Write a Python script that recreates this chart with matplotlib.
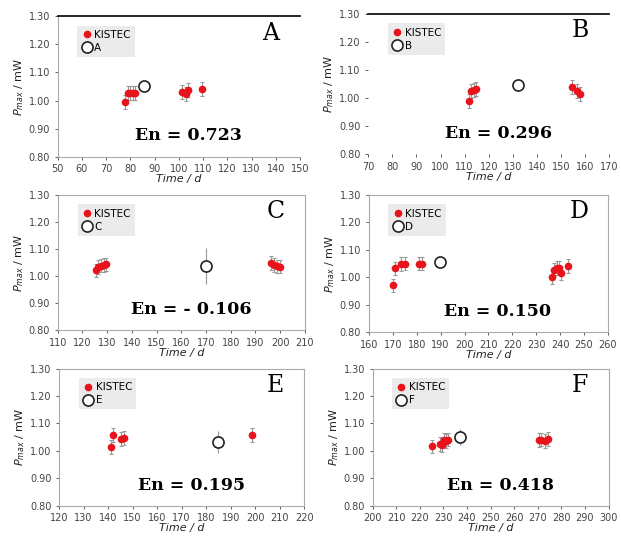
import matplotlib
matplotlib.use("Agg")
import matplotlib.pyplot as plt

# KISTEC measurements and participant value per panel
a_t = [77.6, 79, 80, 81, 82, 101.4, 102.8, 103.9, 109.6]
a_p = [0.995, 1.028, 1.028, 1.028, 1.028, 1.029, 1.023, 1.037, 1.040]
a_ref_t, a_ref_p, a_ref_err = [85.6], [1.051], [0.01]

b_t = [111.7, 112.8, 113.9, 114.6, 154.6, 156.6, 157.7]
b_p = [0.991, 1.024, 1.030, 1.032, 1.039, 1.024, 1.015]
b_ref_t, b_ref_p, b_ref_err = [132], [1.045], [0.01]

c_t = [125.3, 126.4, 127.7, 128.8, 129.7, 196.2, 197.5, 198.9, 199.9]
c_p = [1.021, 1.033, 1.038, 1.040, 1.043, 1.048, 1.040, 1.036, 1.035]
c_ref_t, c_ref_p, c_ref_err = [170], [1.037], [0.066]

d_t = [169.9, 170.8, 173.6, 175, 180.9, 182.2, 236.4, 237.5, 238.8, 239.6, 240.3, 243.3]
d_p = [0.970, 1.032, 1.048, 1.050, 1.050, 1.050, 1.001, 1.028, 1.034, 1.035, 1.016, 1.040]
d_ref_t, d_ref_p, d_ref_err = [189.8], [1.056], [0.008]

e_t = [141.2, 142.2, 145.3, 146.4, 198.6]
e_p = [1.014, 1.057, 1.044, 1.047, 1.057]
e_ref_t, e_ref_p, e_ref_err = [184.9], [1.031], [0.04]

f_t = [225, 228.5, 229.2, 230.1, 231, 232, 270.4, 271.3, 273.1, 274.2]
f_p = [1.016, 1.025, 1.022, 1.041, 1.037, 1.041, 1.039, 1.041, 1.036, 1.042]
f_ref_t, f_ref_p, f_ref_err = [237.1], [1.050], [0.03]

kistec_err = 0.025

labels = ['A', 'B', 'C', 'D', 'E', 'F']
en_texts = ['En = 0.723', 'En = 0.296', 'En = - 0.106', 'En = 0.150', 'En = 0.195', 'En = 0.418']
xlims = [(50, 150), (70, 170), (110, 210), (160, 260), (120, 220), (200, 300)]
series = [
    (a_t, a_p, a_ref_t, a_ref_p, a_ref_err),
    (b_t, b_p, b_ref_t, b_ref_p, b_ref_err),
    (c_t, c_p, c_ref_t, c_ref_p, c_ref_err),
    (d_t, d_p, d_ref_t, d_ref_p, d_ref_err),
    (e_t, e_p, e_ref_t, e_ref_p, e_ref_err),
    (f_t, f_p, f_ref_t, f_ref_p, f_ref_err),
]

# axes rectangles [left, bottom, width, height] in figure fraction
rects = [
    [0.093, 0.709, 0.390, 0.261],
    [0.593, 0.714, 0.388, 0.260],
    [0.093, 0.388, 0.398, 0.250],
    [0.594, 0.384, 0.385, 0.254],
    [0.095, 0.062, 0.395, 0.254],
    [0.600, 0.062, 0.380, 0.254],
]

fig = plt.figure(figsize=(6.21, 5.39), dpi=100)

for i in range(6):
    ax = fig.add_axes(rects[i])
    t, p, rt, rp, rerr = series[i]
    k = ax.errorbar(t, p, yerr=kistec_err, fmt='o', color='#e8141c', ms=4.5,
                    ecolor='#999999', elinewidth=0.8, capsize=1.5, capthick=0.8,
                    zorder=3)
    r = ax.errorbar(rt, rp, yerr=rerr, fmt='o', mfc='white', mec='#222222', mew=1.2,
                    ms=8, ecolor='#999999', elinewidth=0.8, capsize=0, zorder=4)
    ax.set_xlim(*xlims[i])
    ax.set_ylim(0.80, 1.30)
    ax.set_xticks(range(xlims[i][0], xlims[i][1] + 1, 10))
    ax.set_yticks([0.80, 0.90, 1.00, 1.10, 1.20, 1.30])
    ax.set_yticklabels(['0.80', '0.90', '1.00', '1.10', '1.20', '1.30'])
    ax.tick_params(labelsize=7, colors='#444444', length=2, width=0.6)
    for s in ax.spines.values():
        s.set_color('#aaaaaa')
        s.set_linewidth(0.8)
    if i == 0:
        ax.spines['top'].set_color('black')
        ax.spines['top'].set_linewidth(1.2)
        ax.spines['right'].set_visible(False)
    if i == 1:
        ax.spines['top'].set_color('black')
        ax.spines['top'].set_linewidth(1.2)
        ax.spines['left'].set_visible(False)
        ax.spines['right'].set_visible(False)
        ax.spines['bottom'].set_visible(False)
    ax.set_xlabel('Time / d', fontsize=8, style='italic', labelpad=0, color='#222222')
    ax.set_ylabel(r'$P_{max}$ / mW', fontsize=8, labelpad=2, color='#222222')
    ax.legend([k[0], r[0]], ['KISTEC', labels[i]], loc='upper left', fontsize=7.5,
              frameon=True, facecolor='#ebebeb', edgecolor='none', framealpha=1,
              handletextpad=0.2, borderpad=0.4, labelspacing=0.3, handlelength=1.0,
              bbox_to_anchor=(0.06, 0.97), fancybox=False)
    ax.text(0.88, 0.88, labels[i], transform=ax.transAxes, fontsize=17,
            family='DejaVu Serif', ha='center', va='center')
    ax.text(0.54, 0.15, en_texts[i], transform=ax.transAxes, fontsize=12.5,
            family='DejaVu Serif', weight='bold', ha='center', va='center')

fig.savefig('out.png', dpi=100)
